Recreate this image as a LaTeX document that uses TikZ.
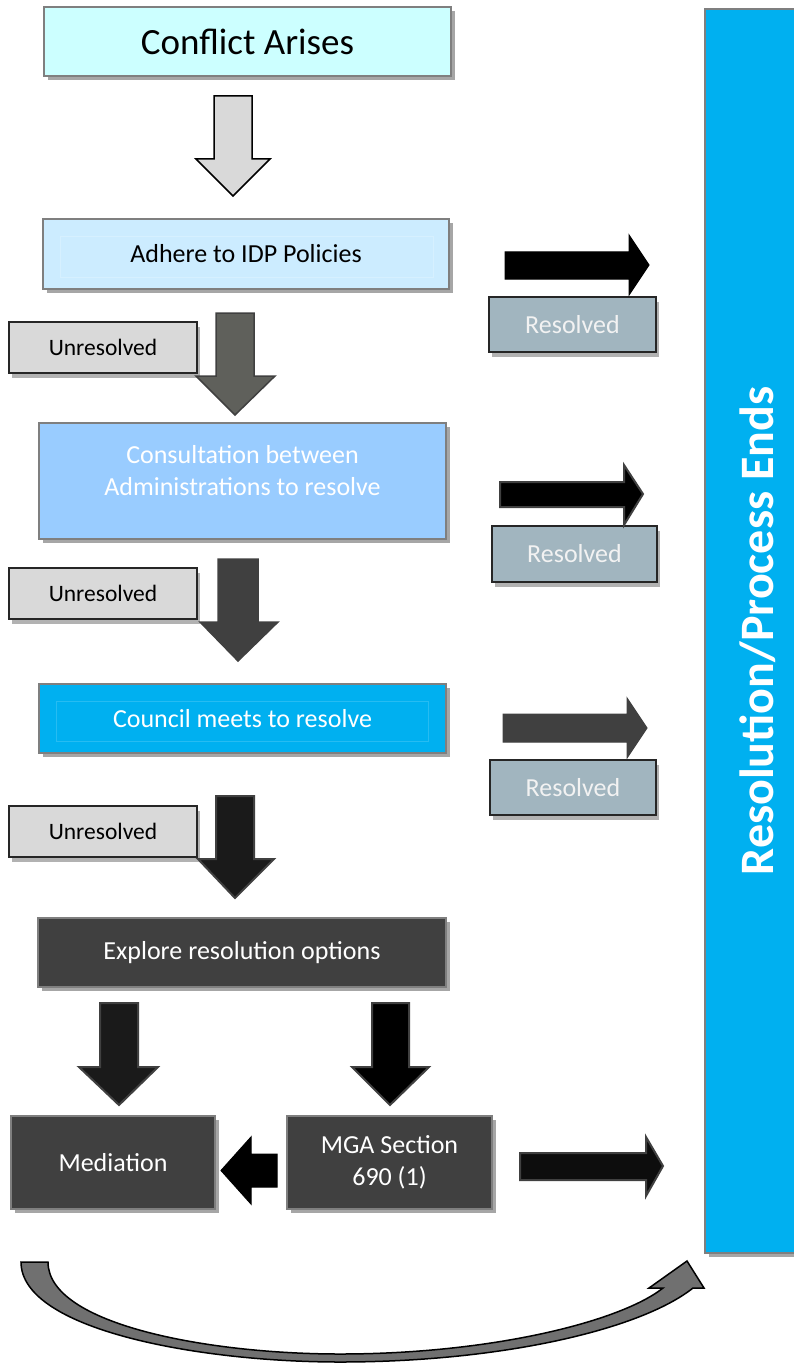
\documentclass[tikz,border=0pt]{standalone}
\usepackage{fontspec}
\setmainfont{Carlito}
\usetikzlibrary{shadows}
\definecolor{conflictfill}{HTML}{CCFFFF}
\definecolor{adherefill}{HTML}{CCECFF}
\definecolor{consultfill}{HTML}{99CCFF}
\definecolor{councilfill}{HTML}{00B0F0}
\definecolor{darkfill}{HTML}{404040}
\definecolor{boxline}{HTML}{7F7F7F}
\definecolor{shadowgray}{HTML}{A6A6A6}
\definecolor{tagfill}{HTML}{D9D9D9}
\definecolor{resfill}{HTML}{A1B5BF}
\definecolor{restext}{HTML}{F2F2F2}
\definecolor{arrowgray}{HTML}{5F605B}
\definecolor{arrowdark}{HTML}{1A1A1A}
\definecolor{curvegray}{HTML}{707070}

\begin{document}
\begin{tikzpicture}[x=1pt,y=-1pt,line join=miter,
    box/.style={draw=boxline,line width=1.5pt,inner sep=0pt,align=center,font=\fontsize{26}{32}\selectfont,drop shadow={shadow xshift=4pt,shadow yshift=-4pt,fill=shadowgray,opacity=1}},
    tagbox/.style={draw=black!85,line width=2pt,inner sep=0pt,font=\fontsize{23.5}{28}\selectfont,drop shadow={shadow xshift=3pt,shadow yshift=-5pt,fill=black,opacity=0.3}},
    resbox/.style={tagbox,fill=resfill,text=restext,font=\fontsize{26}{30}\selectfont}]
                \useasboundingbox (0,0) rectangle (794,1364);
                \clip (0,0) rectangle (794,1364);
                % main column
                \node [box,fill=conflictfill,font=\fontsize{37}{44}\selectfont,minimum width=407pt,minimum height=69pt] (conflict) at (247.5,41.5) {Conflict Arises};
                \node [box,fill=adherefill,minimum width=406pt,minimum height=70pt] (adhere) at (246,254) {Adhere to IDP Policies};
                \draw [adherefill!80!white,line width=0.6pt] (60,236) rectangle (433,277);
                \node [box,fill=consultfill,text=white,minimum width=407pt,minimum height=116pt] (consult) at (242.5,481) {Consultation between\\Administrations to resolve\rule[-22pt]{0pt}{22pt}};
                \node [box,fill=councilfill,text=white,minimum width=407pt,minimum height=69pt] (council) at (242.5,718.5) {Council meets to resolve};
                \draw [councilfill!85!white,line width=0.6pt] (56,701) rectangle (428,741);
                \node [box,fill=darkfill,text=white,minimum width=408pt,minimum height=69pt] (explore) at (242,952.5) {Explore resolution options};
                \node [box,fill=darkfill,text=white,minimum width=204pt,minimum height=93pt] (mediation) at (113,1162.5) {Mediation};
                \node [box,fill=darkfill,text=white,minimum width=205pt,minimum height=93pt] (mga) at (389.5,1162.5) {MGA Section\\690 (1)};
                \node [box,fill=councilfill,minimum width=140pt,minimum height=1244pt,text=white,font=\bfseries\fontsize{48}{52}\selectfont] (ends) at (775,631) {\rotatebox{90}{Resolution/Process Ends}\hspace*{34pt}};
                % side labels
                \node [tagbox,fill=tagfill,minimum width=188pt,minimum height=51pt] (unres1) at (103,347.5) {Unresolved};
                \node [tagbox,fill=tagfill,minimum width=188pt,minimum height=51pt] (unres2) at (103,593.5) {Unresolved};
                \node [tagbox,fill=tagfill,minimum width=188pt,minimum height=51pt] (unres3) at (103,831.5) {Unresolved};
                \node [resbox,minimum width=167pt,minimum height=55pt] (res1) at (572.5,324.5) {Resolved};
                \node [resbox,minimum width=165pt,minimum height=56pt] (res2) at (574.5,554) {Resolved};
                \node [resbox,minimum width=166pt,minimum height=55pt] (res3) at (573,787.5) {Resolved};
                % down arrows
                \draw [line width=1.5pt,fill=tagfill,draw=black] (214,96)-- (252,96)-- (252,159)-- (270,159)-- (233,196)-- (196,159)-- (214,159)-- cycle;
                \draw [line width=1.5pt,fill=arrowgray,draw=darkfill] (216,313)-- (254,313)-- (254,376)-- (275,376)-- (235,415)-- (196,376)-- (216,376)-- cycle;
                \draw [line width=1.5pt,fill=darkfill,draw=darkfill] (218,559)-- (258,559)-- (258,622)-- (278,622)-- (238,661)-- (200,622)-- (218,622)-- cycle;
                \draw [line width=2pt,fill=arrowdark,draw=darkfill] (216,796)-- (254,796)-- (254,859)-- (274,859)-- (235,898)-- (198,859)-- (216,859)-- cycle;
                \draw [line width=2pt,fill=arrowdark,draw=darkfill] (100,1003)-- (138,1003)-- (138,1067)-- (158,1067)-- (119,1105)-- (79,1067)-- (100,1067)-- cycle;
                \draw [line width=2pt,fill=black,draw=darkfill] (372,1003)-- (409,1003)-- (409,1067)-- (429,1067)-- (390,1105)-- (352,1067)-- (372,1067)-- cycle;
                % side arrows
                \draw [line width=1pt,fill=black,draw=black] (277,1154)-- (251,1154)-- (251,1137)-- (221,1170.5)-- (251,1204)-- (251,1187)-- (277,1187)-- cycle;
                \draw [line width=2pt,fill=black!95,draw=darkfill] (520,1153)-- (646,1153)-- (646,1137)-- (663,1166)-- (646,1196)-- (646,1180)-- (520,1180)-- cycle;
                \draw [line width=1pt,fill=black,draw=black] (505,252)-- (629,252)-- (629,235)-- (649,265)-- (629,295)-- (629,279)-- (505,279)-- cycle;
                \draw [line width=2pt,fill=black,draw=darkfill] (500,482)-- (624,482)-- (624,465)-- (643,494)-- (624,525)-- (624,507)-- (500,507)-- cycle;
                \draw [line width=1pt,fill=darkfill,draw=darkfill] (503,714)-- (627,714)-- (627,698)-- (647,728)-- (627,758)-- (627,742)-- (503,742)-- cycle;
                % curved return arrow
                \draw [line width=1.5pt,fill=curvegray,draw=black] (21,1262) .. controls (21,1330) and (200,1362) .. (340,1362) .. controls (500,1362) and (640,1330) .. (693,1288)-- (704,1288)-- (687,1261)-- (649,1288)-- (663,1288) .. controls (620,1322) and (490,1354) .. (340,1354) .. controls (210,1354) and (48,1325) .. (48,1262)-- cycle;
            \end{tikzpicture}
\end{document}
